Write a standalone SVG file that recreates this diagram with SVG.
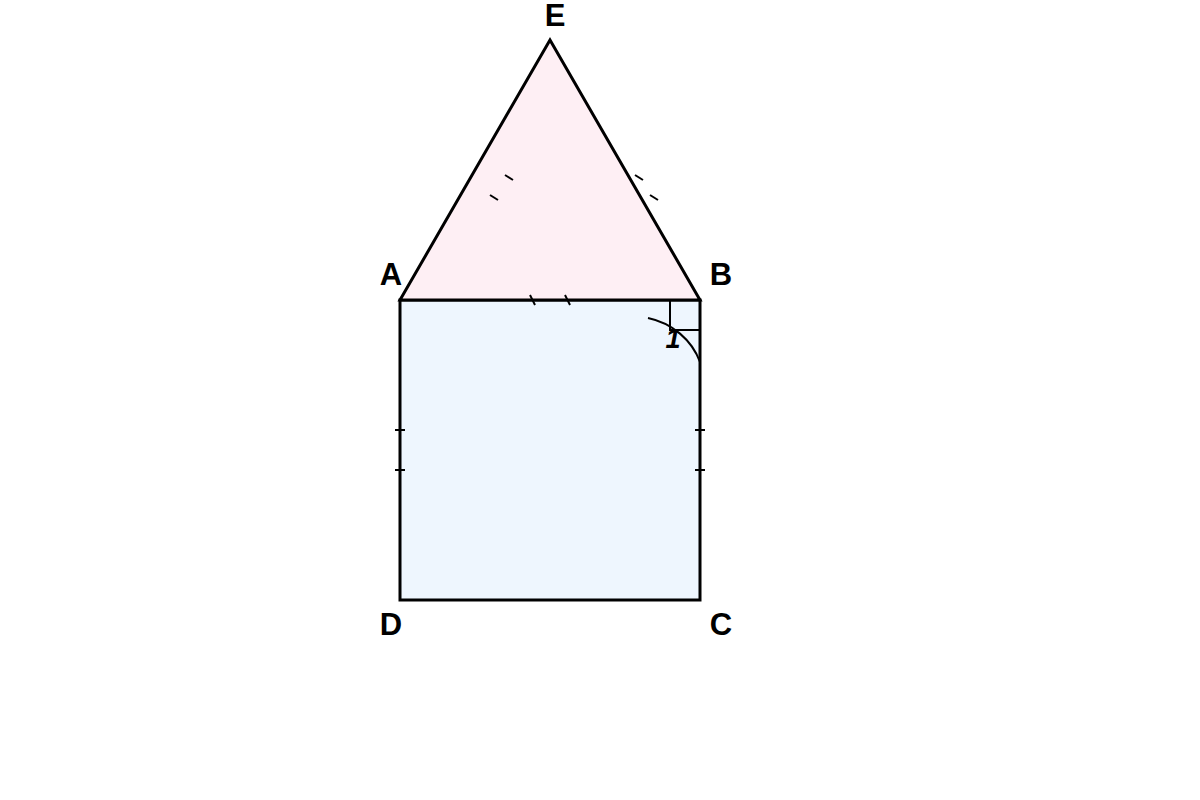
<svg xmlns="http://www.w3.org/2000/svg" width="1200" height="800" viewBox="0 0 1200 800">
<style>
.shape{stroke:#000;stroke-width:3;stroke-linejoin:miter}
.thin{stroke:#000;stroke-width:2;fill:none}
.lbl{font-family:"Liberation Sans",Arial,sans-serif;font-weight:bold;font-size:31px;fill:#000;text-anchor:middle}
.ang{font-family:"Liberation Sans",Arial,sans-serif;font-weight:bold;font-style:italic;font-size:27px;fill:#000;text-anchor:middle}
</style>
<rect width="1200" height="800" fill="#fff"/>
<g id="square">
<rect class="shape" x="400" y="300" width="300" height="300" fill="#eef6fe"/>
</g>
<g id="triangle">
<polygon class="shape" points="400,300 550,40 700,300" fill="#feeff4"/>
</g>
<g id="marks">
<line class="thin" x1="505" y1="175" x2="513" y2="180"/>
<line class="thin" x1="490" y1="195" x2="498" y2="200"/>
<line class="thin" x1="635" y1="175" x2="643" y2="180"/>
<line class="thin" x1="650" y1="195" x2="658" y2="200"/>
<line class="thin" x1="530" y1="295" x2="535" y2="305"/>
<line class="thin" x1="565" y1="295" x2="570" y2="305"/>
<line class="thin" x1="395" y1="430" x2="405" y2="430"/>
<line class="thin" x1="395" y1="470" x2="405" y2="470"/>
<line class="thin" x1="695" y1="430" x2="705" y2="430"/>
<line class="thin" x1="695" y1="470" x2="705" y2="470"/>
<text class="ang" x="673" y="348">1</text>
<polyline class="thin" points="670,300 670,330 700,330"/>
<path class="thin" d="M648,318 C672,323 692,340 700,362"/>
</g>
<g id="labels">
<text class="lbl" x="555" y="26">E</text>
<text class="lbl" x="391" y="285">A</text>
<text class="lbl" x="721" y="285">B</text>
<text class="lbl" x="391" y="635">D</text>
<text class="lbl" x="721" y="635">C</text>
</g>
</svg>
